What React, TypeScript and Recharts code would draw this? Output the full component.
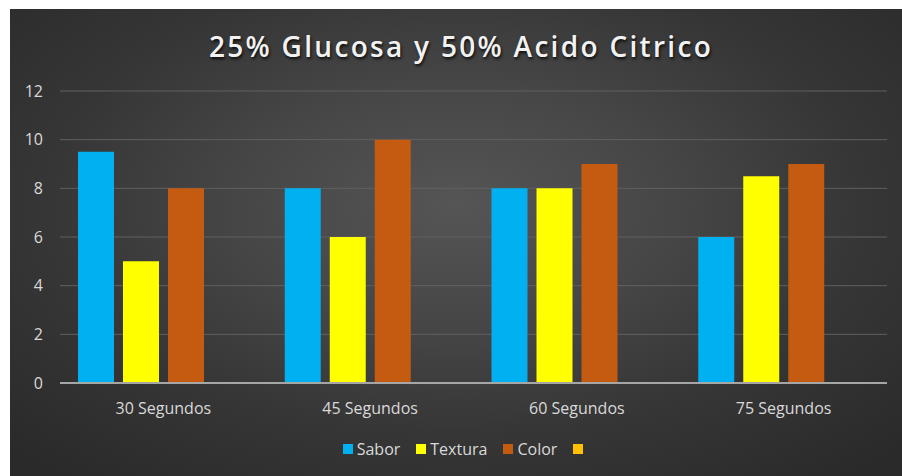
import React from "react";
import { BarChart, Bar, XAxis, YAxis, CartesianGrid } from "recharts";

const categories = ["30 Segundos", "45 Segundos", "60 Segundos", "75 Segundos"];
const sabor = [9.5, 8, 8, 6];
const textura = [5, 6, 8, 8.5];
const color = [8, 10, 9, 9];
const extra: (number | null)[] = [null, null, null, null];
const yTicks = [0, 2, 4, 6, 8, 10, 12];
const seriesNames = ["Sabor", "Textura", "Color", ""];
const seriesColors = ["#00B0F0", "#FFFF00", "#C55A11", "#FFC000"];
const title = "25% Glucosa y 50% Acido Citrico";

const data = categories.map((c, i) => ({
  name: c,
  s0: sabor[i],
  s1: textura[i],
  s2: color[i],
  s3: extra[i],
}));

const W = 892;
const H = 467;
const font = "'Open Sans', 'Liberation Sans', sans-serif";

export default function App() {
  return (
    <div
      style={{
        position: "absolute",
        left: 10,
        top: 9,
        width: W,
        height: H,
        background:
          "radial-gradient(ellipse 70% 75% at 50% 42%, #555555 0%, #464646 35%, #363636 65%, #2a2a2a 100%)",
        overflow: "hidden",
      }}
    >
      <div
        style={{
          position: "absolute",
          left: 0,
          width: W,
          top: 18,
          textAlign: "center",
          fontFamily: font,
          fontWeight: 600,
          fontSize: 28,
          letterSpacing: 2.3,
          paddingLeft: 10,
          boxSizing: "border-box",
          color: "#f2f2f2",
          textShadow: "1px 2px 3px rgba(0,0,0,0.8)",
        }}
      >
        {title}
      </div>
      <BarChart
        width={W}
        height={H}
        data={data}
        margin={{ top: 82, right: 15, left: 0, bottom: 63 }}
        barGap={9}
        barCategoryGap={18}
      >
        <CartesianGrid vertical={false} stroke="#616161" strokeWidth={1} />
        <XAxis
          dataKey="name"
          tickLine={false}
          axisLine={{ stroke: "#a6a6a6", strokeWidth: 2 }}
          tick={{ fill: "#d9d9d9", fontSize: 16, fontFamily: font }}
          tickMargin={14}
          height={30}
        />
        <YAxis
          domain={[0, 12]}
          ticks={yTicks}
          width={50}
          tickLine={false}
          axisLine={false}
          tick={{ fill: "#d9d9d9", fontSize: 16, fontFamily: font }}
          tickMargin={11}
        />
        {["s0", "s1", "s2", "s3"].map((k, i) => (
          <Bar
            key={k}
            dataKey={k}
            name={seriesNames[i]}
            fill={seriesColors[i]}
            isAnimationActive={false}
          />
        ))}
      </BarChart>
      <div
        style={{
          position: "absolute",
          left: 0,
          width: W,
          top: 429,
          height: 22,
          display: "flex",
          justifyContent: "center",
          alignItems: "center",
          fontFamily: font,
          fontSize: 16,
          color: "#d9d9d9",
          paddingLeft: 14,
          boxSizing: "border-box",
        }}
      >
        {seriesNames.map((n, i) => (
          <div
            key={i}
            style={{
              display: "flex",
              alignItems: "center",
              marginRight: i < seriesNames.length - 1 ? 16 : 0,
            }}
          >
            <span
              style={{
                display: "inline-block",
                width: 10,
                height: 10,
                background: seriesColors[i],
                marginRight: n ? 4 : 0,
              }}
            />
            {n ? <span>{n}</span> : null}
          </div>
        ))}
      </div>
    </div>
  );
}
